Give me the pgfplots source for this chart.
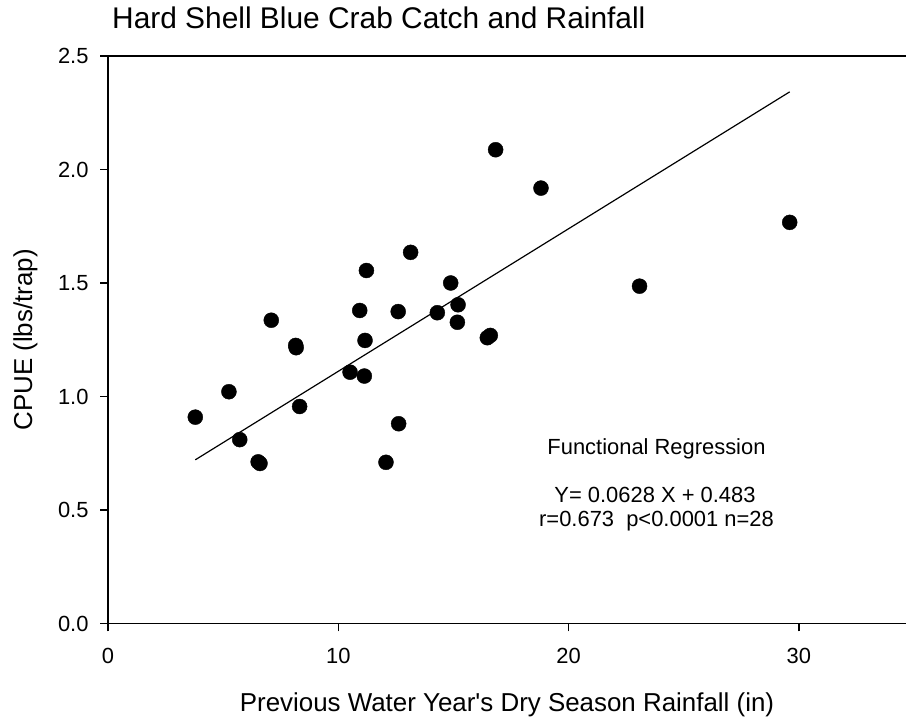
\documentclass[border=0pt]{standalone}
\usepackage{fontspec}
\setmainfont{Liberation Sans}[Ligatures=TeXOff]
\usepackage{pgfplots}
\pgfplotsset{compat=1.18}
\begin{document}
\begin{tikzpicture}[x=1bp,y=1bp]
\useasboundingbox (0,0) rectangle (906,721);
\begin{axis}[
  at={(108bp,97.5bp)}, anchor=south west,
  scale only axis, width=798bp, height=567.5bp,
  xmin=0, xmax=34.65, ymin=0, ymax=2.5,
  axis line style={draw=none},
  xtick={0,10,20,30}, ytick={0,0.5,1,1.5,2,2.5},
  xtick pos=left, ytick pos=left,
  tick align=outside,
  major tick length=8bp,
  tick style={draw=black, line width=1.2bp},
  minor tick num=0,
  /pgf/number format/assume math mode=true,
  yticklabel style={/pgf/number format/fixed, /pgf/number format/fixed zerofill, /pgf/number format/precision=1},
  tick label style={font=\fontsize{22}{26}\selectfont},
  xticklabel style={yshift=-13bp},
  yticklabel style={xshift=-8bp},
  clip=false,
]
\draw[black, line width=1.2bp] (rel axis cs:1,0) -- (rel axis cs:0,0) -- (rel axis cs:0,1) -- (rel axis cs:1,1);
\pgfplotsinvokeforeach{0,10,20,30}{\draw[black, line width=1.2bp] (axis cs:#1,0) -- ++(0,-8bp);}
\pgfplotsinvokeforeach{0,0.5,1,1.5,2,2.5}{\draw[black, line width=1.2bp] (axis cs:0,#1) -- ++(-8bp,0);}
\addplot[only marks, mark=*, mark size=7.5bp, mark options={fill=black, draw=black}] coordinates {
(3.79,0.909) (5.25,1.021) (5.72,0.810) (6.52,0.712) (6.60,0.705)
(7.09,1.336) (8.15,1.225) (8.17,1.215) (8.32,0.956)
(10.51,1.107) (10.93,1.379) (11.13,1.090) (11.16,1.247) (11.22,1.555)
(12.07,0.710) (12.60,1.374) (12.62,0.880) (13.14,1.635)
(14.30,1.369) (14.88,1.500) (15.17,1.327) (15.20,1.404)
(16.47,1.259) (16.60,1.269) (16.83,2.087) (18.80,1.918)
(23.08,1.486) (29.60,1.767)
};
\addplot[black, line width=1.2bp] coordinates {(3.79,0.721) (29.60,2.342)};
\end{axis}
\node[anchor=base west, font=\fontsize{30}{36}\selectfont, inner sep=0pt] at (112,692) {Hard Shell Blue Crab Catch and Rainfall};
\node[anchor=base, font=\fontsize{26}{30}\selectfont, inner sep=0pt] at (507,9) {Previous Water Year's Dry Season Rainfall (in)};
\node[anchor=base, rotate=90, font=\fontsize{26}{30}\selectfont, inner sep=0pt] at (32,381) {CPUE (lbs/trap)};
\node[anchor=base, font=\fontsize{22}{26}\selectfont, inner sep=0pt] at (656.5,266) {Functional Regression};
\node[anchor=base, font=\fontsize{22}{26}\selectfont, inner sep=0pt] at (655,218) {Y= 0.0628 X + 0.483};
\node[anchor=base, font=\fontsize{22}{26}\selectfont, inner sep=0pt] at (656.5,194) {r=0.673\ \ p<0.0001 n=28};
\end{tikzpicture}
\end{document}
